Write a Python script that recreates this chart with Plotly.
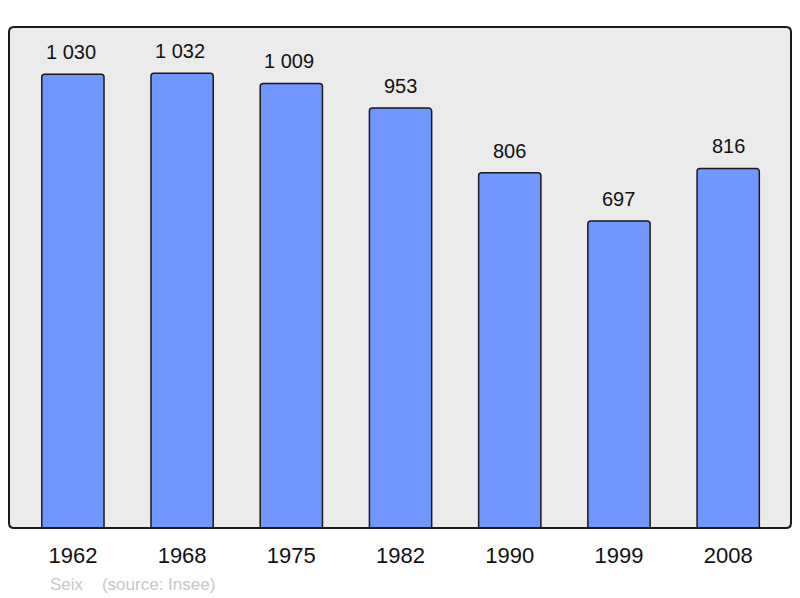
import plotly.graph_objects as go

years = ["1962", "1968", "1975", "1982", "1990", "1999", "2008"]
population = [1030, 1032, 1009, 953, 806, 697, 816]
commune = "Seix"
source = "(source: Insee)"

def fmt(v):
    return f"{v:,}".replace(",", " ")

xs = list(range(len(years)))

fig = go.Figure()
fig.add_trace(go.Bar(
    x=xs, y=population, width=0.57,
    marker=dict(color="#7097ff", line=dict(color="#1a1a1a", width=1.5), cornerradius=3),
    hoverinfo="skip",
))

for x, v in zip(xs, population):
    fig.add_annotation(x=x, y=v, text=fmt(v), showarrow=False, yanchor="bottom",
                       yshift=9, xshift=-2 if v >= 1000 else 0,
                       font=dict(size=20, color="#111111", family="Liberation Sans, Arial"))

fig.add_annotation(xref="paper", yref="paper", x=0.0505, y=-0.112, xanchor="left", yanchor="middle",
                   text=f"{commune}&nbsp;&nbsp;&nbsp;&nbsp;{source}", showarrow=False,
                   font=dict(size=17, color="#c8c8c8", family="Liberation Sans, Arial"))

# rounded frame around plot area
rx, ry = 5 / 782, 5 / 501
path = (f"M {rx},0 L {1-rx},0 Q 1,0 1,{ry} L 1,{1-ry} Q 1,1 {1-rx},1 "
        f"L {rx},1 Q 0,1 0,{1-ry} L 0,{ry} Q 0,0 {rx},0 Z")
fig.add_shape(type="path", xref="paper", yref="paper", path=path,
              line=dict(color="#1a1a1a", width=2), layer="above")

fig.update_layout(
    width=784, height=590,
    margin=dict(l=1, r=1, t=19, b=70),
    paper_bgcolor="white", plot_bgcolor="#ebebeb",
    showlegend=False,
    xaxis=dict(range=[-0.585, 6.575], tickmode="array", tickvals=xs, ticktext=years,
               showgrid=False, zeroline=False, showline=False, ticks="",
               tickfont=dict(size=22, color="#111111", family="Liberation Sans, Arial"), ticklabelstandoff=12),
    yaxis=dict(range=[0, 1137], showgrid=False, zeroline=False, showticklabels=False, showline=False),
    font=dict(family="Liberation Sans, Arial"),
)

fig.write_html("out.html")
